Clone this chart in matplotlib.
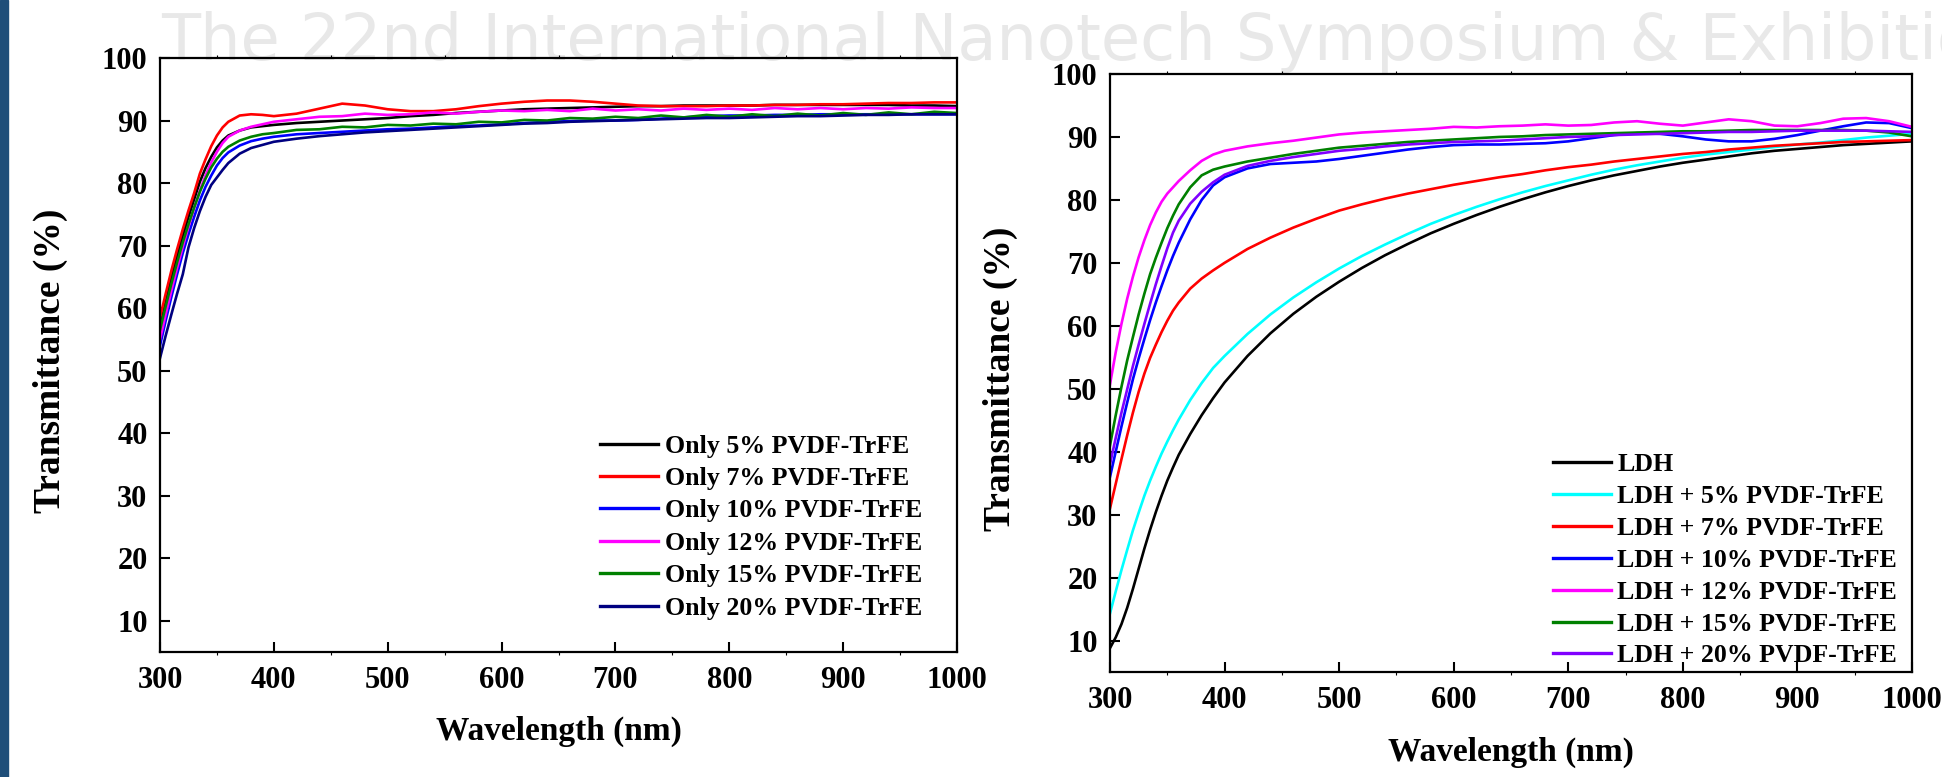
import numpy as np
import matplotlib
matplotlib.use('Agg')
import matplotlib.pyplot as plt
from matplotlib.patches import Rectangle
from matplotlib.ticker import MultipleLocator

plt.rcParams['font.family'] = 'Liberation Serif'
plt.rcParams['font.weight'] = 'bold'

# ---- data ----
wl = [300, 305, 310, 315, 320, 325, 330, 335, 340, 345, 350, 355, 360,
      370, 380, 390, 400, 420, 440, 460, 480, 500, 520, 540, 560, 580,
      600, 620, 640, 660, 680, 700, 720, 740, 760, 780, 800, 820, 840,
      860, 880, 900, 920, 940, 960, 980, 1000]

# left panel: only PVDF-TrFE films
only5 = [57.0, 61.0, 64.8, 68.3, 71.6, 74.6, 77.4, 80.2, 82.4, 84.2, 85.7, 86.8, 87.6,
         88.4, 88.9, 89.1, 89.3, 89.6, 89.8, 90.0, 90.2, 90.4, 90.7, 90.9, 91.2, 91.4,
         91.6, 91.8, 91.9, 92.0, 92.1, 92.2, 92.3, 92.3, 92.4, 92.4, 92.4, 92.4, 92.5,
         92.5, 92.5, 92.5, 92.5, 92.5, 92.4, 92.4, 92.3]
only7 = [58.5, 62.3, 66.0, 69.4, 72.6, 75.6, 78.4, 81.5, 83.8, 85.9, 87.6, 88.9, 89.8,
         90.8, 91.0, 90.9, 90.7, 91.1, 91.9, 92.7, 92.4, 91.8, 91.5, 91.5, 91.8, 92.3,
         92.7, 93.0, 93.2, 93.2, 93.0, 92.7, 92.4, 92.3, 92.3, 92.3, 92.4, 92.4, 92.5,
         92.5, 92.6, 92.6, 92.7, 92.8, 92.8, 92.9, 92.9]
only10 = [54.0, 58.0, 61.8, 65.4, 68.8, 71.8, 74.6, 77.2, 79.4, 81.2, 82.8, 84.0, 84.9,
          86.0, 86.7, 87.1, 87.4, 87.8, 88.0, 88.2, 88.4, 88.6, 88.7, 88.9, 89.1, 89.2,
          89.4, 89.6, 89.8, 89.9, 90.0, 90.0, 90.1, 90.3, 90.5, 90.7, 90.8, 90.8, 90.9,
          90.9, 91.0, 91.0, 91.0, 91.0, 91.0, 91.0, 91.0]
only12 = [55.0, 59.0, 62.8, 66.4, 69.8, 73.0, 76.0, 78.8, 81.2, 83.3, 85.0, 86.4, 87.4,
          88.4, 89.0, 89.4, 89.8, 90.2, 90.6, 90.7, 91.1, 90.9, 91.0, 91.3, 91.1, 91.4,
          91.6, 91.5, 91.7, 91.5, 91.9, 91.6, 91.8, 91.6, 91.9, 91.7, 91.9, 91.7, 92.0,
          91.8, 92.0, 91.8, 92.0, 91.9, 92.1, 92.0, 92.0]
only15 = [56.5, 60.3, 63.9, 67.3, 70.5, 73.4, 76.1, 78.6, 80.7, 82.5, 83.9, 85.0, 85.8,
          86.8, 87.4, 87.8, 88.0, 88.5, 88.6, 89.0, 88.9, 89.3, 89.2, 89.5, 89.4, 89.8,
          89.7, 90.1, 90.0, 90.4, 90.3, 90.6, 90.4, 90.8, 90.5, 90.9, 90.6, 91.0, 90.7,
          91.1, 90.8, 91.2, 90.9, 91.3, 91.0, 91.4, 91.2]
only20 = [52.0, 55.6, 59.0, 62.3, 65.4, 69.7, 72.8, 75.5, 77.8, 79.7, 80.9, 82.1, 83.2,
          84.7, 85.6, 86.1, 86.6, 87.1, 87.5, 87.8, 88.1, 88.3, 88.5, 88.7, 88.9, 89.1,
          89.3, 89.5, 89.6, 89.8, 89.9, 90.0, 90.1, 90.2, 90.3, 90.4, 90.4, 90.5, 90.6,
          90.7, 90.7, 90.8, 90.9, 90.9, 91.0, 91.0, 91.0]

# right panel: LDH and LDH + PVDF-TrFE
ldh = [8.8, 10.5, 12.6, 15.2, 18.2, 21.4, 24.6, 27.6, 30.4, 33.0, 35.4, 37.5, 39.5,
       42.8, 45.8, 48.5, 51.0, 55.2, 58.8, 61.9, 64.6, 67.0, 69.2, 71.2, 73.0, 74.7,
       76.2, 77.6, 78.9, 80.1, 81.2, 82.2, 83.1, 83.9, 84.6, 85.3, 85.9, 86.4, 86.9,
       87.4, 87.8, 88.1, 88.4, 88.7, 88.9, 89.1, 89.3]
ldh5 = [14.3, 17.8, 21.2, 24.4, 27.5, 30.3, 33.0, 35.4, 37.6, 39.7, 41.6, 43.4, 45.1,
        48.2, 50.9, 53.3, 55.2, 58.7, 61.8, 64.5, 66.9, 69.1, 71.1, 72.9, 74.6, 76.2,
        77.6, 78.9, 80.1, 81.2, 82.2, 83.1, 84.0, 84.8, 85.5, 86.1, 86.7, 87.2, 87.6,
        88.0, 88.4, 88.8, 89.1, 89.5, 89.9, 90.2, 90.5]
ldh7 = [31.0, 34.9, 38.8, 42.6, 46.2, 49.5, 52.4, 54.9, 57.0, 59.0, 60.8, 62.4, 63.7,
        65.9, 67.5, 68.8, 70.0, 72.2, 74.0, 75.6, 77.0, 78.3, 79.3, 80.2, 81.0, 81.7,
        82.4, 83.0, 83.6, 84.1, 84.7, 85.2, 85.6, 86.1, 86.5, 86.9, 87.3, 87.6, 88.0,
        88.3, 88.6, 88.8, 89.0, 89.2, 89.3, 89.4, 89.5]
ldh10 = [36.0, 40.0, 44.0, 47.8, 51.5, 54.8, 57.9, 60.9, 63.7, 66.3, 68.8, 71.1, 73.2,
         76.9, 80.0, 82.3, 83.6, 85.0, 85.7, 85.9, 86.1, 86.5, 87.0, 87.5, 88.0, 88.4,
         88.7, 88.8, 88.8, 88.9, 89.0, 89.3, 89.8, 90.3, 90.6, 90.5, 90.1, 89.6, 89.3,
         89.3, 89.7, 90.3, 91.0, 91.7, 92.3, 92.2, 91.4]
ldh12 = [50.7, 55.8, 60.3, 64.3, 67.8, 70.9, 73.6, 76.0, 78.0, 79.7, 81.0, 82.0, 83.0,
         84.7, 86.2, 87.2, 87.8, 88.5, 89.0, 89.4, 89.9, 90.4, 90.7, 90.9, 91.1, 91.3,
         91.6, 91.5, 91.7, 91.8, 92.0, 91.8, 91.9, 92.3, 92.5, 92.1, 91.8, 92.3, 92.8,
         92.5, 91.8, 91.7, 92.2, 92.9, 93.0, 92.5, 91.6]
ldh15 = [41.0, 45.8, 50.3, 54.5, 58.2, 61.8, 65.1, 68.2, 70.8, 73.2, 75.5, 77.5, 79.3,
         82.0, 83.9, 84.8, 85.3, 86.1, 86.7, 87.3, 87.8, 88.3, 88.6, 88.9, 89.2, 89.4,
         89.6, 89.8, 90.0, 90.1, 90.3, 90.4, 90.5, 90.6, 90.7, 90.8, 90.9, 90.9, 91.0,
         91.1, 91.1, 91.1, 91.1, 91.1, 91.0, 90.7, 90.1]
ldh20 = [38.0, 42.2, 46.2, 49.9, 53.6, 57.0, 60.3, 63.5, 66.6, 69.5, 72.3, 74.8, 76.7,
         79.4, 81.3, 82.8, 84.0, 85.4, 86.2, 86.8, 87.3, 87.8, 88.1, 88.5, 88.8, 89.0,
         89.2, 89.3, 89.4, 89.6, 89.8, 90.0, 90.1, 90.3, 90.4, 90.5, 90.6, 90.7, 90.8,
         90.8, 90.9, 91.0, 91.0, 91.0, 91.0, 90.9, 90.8]

left_labels = ['Only 5% PVDF-TrFE', 'Only 7% PVDF-TrFE', 'Only 10% PVDF-TrFE',
               'Only 12% PVDF-TrFE', 'Only 15% PVDF-TrFE', 'Only 20% PVDF-TrFE']
left_colors = ['#000000', '#ff0000', '#0000ff', '#ff00ff', '#008000', '#000080']
left_series = [only5, only7, only10, only12, only15, only20]

right_labels = ['LDH', 'LDH + 5% PVDF-TrFE', 'LDH + 7% PVDF-TrFE', 'LDH + 10% PVDF-TrFE',
                'LDH + 12% PVDF-TrFE', 'LDH + 15% PVDF-TrFE', 'LDH + 20% PVDF-TrFE']
right_colors = ['#000000', '#00ffff', '#ff0000', '#0000ff', '#ff00ff', '#008000', '#8000ff']
right_series = [ldh, ldh5, ldh7, ldh10, ldh12, ldh15, ldh20]

# ---- figure ----
fig = plt.figure(figsize=(19.42, 7.77), dpi=100)

# side bar and watermark (behind the axes)
fig.patches.append(Rectangle((0, 0), 8 / 1942, 1, transform=fig.transFigure,
                             color='#1f4e79', zorder=-2))
fig.text(161 / 1942, 1 - 60 / 777, 'The 22nd International Nanotech Symposium & Exhibition',
         fontsize=46, color='#e8e8e8', family='DejaVu Sans', fontweight='normal',
         va='baseline', ha='left', zorder=-1)

ax1 = fig.add_axes([160 / 1942, 1 - 652 / 777, 797 / 1942, 594 / 777])
ax2 = fig.add_axes([1110 / 1942, 1 - 672 / 777, 802 / 1942, 598 / 777])


def style(ax):
    ax.set_facecolor('none')
    ax.set_xlim(300, 1000)
    ax.set_ylim(5, 100)
    ax.xaxis.set_major_locator(MultipleLocator(100))
    ax.xaxis.set_minor_locator(MultipleLocator(50))
    ax.yaxis.set_major_locator(MultipleLocator(10))
    for s in ax.spines.values():
        s.set_linewidth(1.6)
    ax.tick_params(axis='both', which='major', direction='in', length=7.5, width=1.5,
                   labelsize=22, pad=9, top=False, right=False)
    ax.tick_params(axis='x', which='minor', direction='out', length=2, width=0.8,
                   top=True, bottom=True)
    ax.tick_params(axis='x', which='major', pad=10)
    ax.set_yticks(range(10, 101, 10))
    for lab in ax.get_xticklabels() + ax.get_yticklabels():
        lab.set_fontweight('bold')


for ax in (ax1, ax2):
    style(ax)

for y, c, lab in zip(left_series, left_colors, left_labels):
    ax1.plot(wl, y, color=c, lw=1.9, label=lab)
for y, c, lab in zip(right_series, right_colors, right_labels):
    ax2.plot(wl, y, color=c, lw=1.9, label=lab)

ax1.set_xlabel('Wavelength (nm)', fontsize=24, fontweight='bold', va='center')
ax1.xaxis.set_label_coords(0.5, -0.133)
ax1.set_ylabel('Transmittance (%)', fontsize=27, fontweight='bold', va='center')
ax1.yaxis.set_label_coords(-0.138, 0.49)

ax2.set_xlabel('Wavelength (nm)', fontsize=24, fontweight='bold', va='center')
ax2.xaxis.set_label_coords(0.5, -0.134)
ax2.set_ylabel('Transmittance (%)', fontsize=27, fontweight='bold', va='center')
ax2.yaxis.set_label_coords(-0.136, 0.49)

leg_kw = dict(loc='upper left', frameon=False, fontsize=18.6, handlelength=2.25,
              handletextpad=0.25, borderpad=0, borderaxespad=0)
l1 = ax1.legend(bbox_to_anchor=(0.552, 0.366), labelspacing=0.36, **leg_kw)
l2 = ax2.legend(bbox_to_anchor=(0.552, 0.366), labelspacing=0.34, **leg_kw)
for leg in (l1, l2):
    for ln in leg.get_lines():
        ln.set_linewidth(2.4)
    for t in leg.get_texts():
        t.set_fontweight('bold')

fig.savefig('out.png', dpi=100)
